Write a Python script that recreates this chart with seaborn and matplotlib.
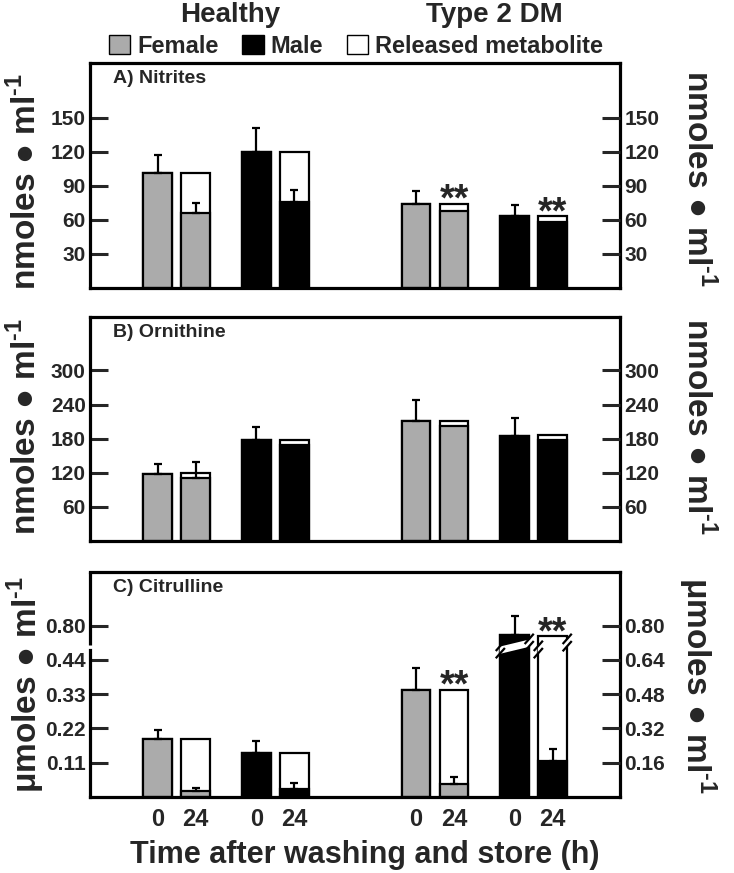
import matplotlib
matplotlib.use('Agg')
import matplotlib.pyplot as plt
from matplotlib.patches import Patch
import seaborn as sns
import pandas as pd
import numpy as np

# bar order: Healthy female, Healthy male, Type 2 DM female, Type 2 DM male
sexes = ['Female', 'Male', 'Female', 'Male']
time_labels = ['0', '24']

# A) Nitrites, nmoles/ml
nit_t0 = [101, 120, 74, 63]
nit_t0_err = [16, 21, 11, 10]
nit_t24_total = [101, 120, 74, 63]
nit_t24_kept = [66, 76, 68, 58]
nit_t24_err = [9, 10, 0, 0]

# B) Ornithine, nmoles/ml
orn_t0 = [118, 178, 211, 184]
orn_t0_err = [17, 22, 37, 33]
orn_t24_total = [119, 178, 211, 186]
orn_t24_kept = [110, 168, 203, 178]
orn_t24_err = [29, 0, 0, 0]

# C) Citrulline, umoles/ml (healthy read on left axis, type 2 DM on right axis)
cit_t0 = [0.186, 0.140, 0.50, 0.755]
cit_t0_err = [0.030, 0.038, 0.10, 0.09]
cit_t24_total = [0.185, 0.140, 0.50, 0.75]
cit_t24_kept = [0.019, 0.027, 0.062, 0.169]
cit_t24_err = [0.011, 0.017, 0.032, 0.054]

cit_left_ticks = ['0.11', '0.22', '0.33', '0.44', '0.80']
cit_right_ticks = ['0.16', '0.32', '0.48', '0.64', '0.80']

GRAY = '#ababab'
LW = 1.6

sns.set_theme(style='white')
plt.rcParams['font.family'] = ['Liberation Sans', 'DejaVu Sans']
plt.rcParams['font.weight'] = 'bold'
plt.rcParams['mathtext.fontset'] = 'custom'
plt.rcParams['mathtext.rm'] = 'Liberation Sans:bold'
plt.rcParams['mathtext.bf'] = 'Liberation Sans:bold'

starts = np.array([0, 2.6, 6.8, 9.4])
pos = np.ravel(np.column_stack([starts, starts + 1]))


def draw_bars(ax, t0, t0_err, total, kept, kept_err, scale=(1, 1, 1, 1)):
    s = np.asarray(scale, dtype=float)[:, None]
    df = pd.DataFrame({
        'pos': pos,
        'back': np.ravel(np.column_stack([t0, total]) * s),
        'front': np.ravel(np.column_stack([t0, kept]) * s),
        'err': np.ravel(np.column_stack([t0_err, kept_err]) * s),
        'sex': np.repeat(sexes, 2),
    })
    # white = released metabolite, drawn to the total height
    sns.barplot(data=df, x='pos', y='back', native_scale=True, orient='x',
                color='white', saturation=1, width=0.76, edgecolor='black',
                linewidth=LW, errorbar=None, ax=ax)
    sns.barplot(data=df, x='pos', y='front', hue='sex', native_scale=True, orient='x',
                palette={'Female': GRAY, 'Male': 'black'}, dodge=False, saturation=1,
                width=0.76, edgecolor='black', linewidth=LW, errorbar=None,
                legend=False, ax=ax)
    m = (df.err > 0).to_numpy()
    ax.errorbar(df.pos[m], df.front[m], yerr=[np.zeros(m.sum()), df.err[m]],
                fmt='none', ecolor='black', elinewidth=LW, capsize=3, capthick=LW, zorder=5)
    return df


def style_axes(ax, ylim, ticks, left_labels, right_labels):
    ax.set_xlim(-1.78, 12.17)
    ax.set_ylim(*ylim)
    ax.set_xlabel('')
    ax.set_ylabel('')
    ax.set_yticks(ticks)
    ax.set_yticklabels(left_labels)
    ax.tick_params(axis='y', direction='in', length=13, width=2.2, labelsize=15, pad=3)
    for sp in ax.spines.values():
        sp.set_visible(True)
        sp.set_color('black')
        sp.set_linewidth(2.3)
    ax2 = ax.twinx()
    ax2.set_ylim(*ylim)
    ax2.set_yticks(ticks)
    ax2.set_yticklabels(right_labels)
    ax2.tick_params(axis='y', direction='in', length=13, width=2.2, labelsize=15, pad=3)
    for sp in ax2.spines.values():
        sp.set_visible(False)
    ax2.grid(False)
    ax.grid(False)
    return ax2


def stars(ax, x, y):
    ax.annotate('**', (x, y), xytext=(0, -5), textcoords='offset points',
                ha='center', va='baseline', fontsize=27, fontweight='bold', zorder=8)


def bar_break(ax, xc, y0=0.670, gap=0.034, rise=0.035, hw=0.38):
    xs = np.array([xc - hw - 0.03, xc + hw + 0.03])
    ys = y0 + np.array([0, rise])
    ax.fill_between(xs, ys, ys + gap, color='white', lw=0, zorder=6)
    for e in (xc - hw, xc + hw):
        yb = y0 + rise * (e - xs[0]) / (xs[1] - xs[0])
        for yy in (yb, yb + gap):
            ax.plot([e - 0.12, e + 0.12], [yy - 0.024, yy + 0.024], color='black',
                    lw=LW, zorder=7, solid_capstyle='butt', clip_on=False)


fig = plt.figure(figsize=(7.34, 8.73), dpi=100)
axA = fig.add_axes([0.1226, 0.6701, 0.7221, 0.2577])
axB = fig.add_axes([0.1226, 0.3803, 0.7221, 0.2566])
axC = fig.add_axes([0.1226, 0.0871, 0.7221, 0.2577])

# A) Nitrites
dfA = draw_bars(axA, nit_t0, nit_t0_err, nit_t24_total, nit_t24_kept, nit_t24_err)
nit_ticks = [30, 60, 90, 120, 150]
style_axes(axA, (0, 198), nit_ticks, nit_ticks, nit_ticks)
for i in (5, 7):
    stars(axA, dfA.pos[i], dfA.back[i])

# B) Ornithine
draw_bars(axB, orn_t0, orn_t0_err, orn_t24_total, orn_t24_kept, orn_t24_err)
orn_ticks = [60, 120, 180, 240, 300]
style_axes(axB, (0, 394), orn_ticks, orn_ticks, orn_ticks)

# C) Citrulline: healthy values rescaled onto the right-hand axis (0.11 -> 0.16)
k = 0.16 / 0.11
dfC = draw_bars(axC, cit_t0, cit_t0_err, cit_t24_total, cit_t24_kept, cit_t24_err,
                scale=(k, k, 1, 1))
cit_pos = [0.16, 0.32, 0.48, 0.64, 0.80]
style_axes(axC, (0, 1.05), cit_pos, cit_left_ticks, cit_right_ticks)
for i in (5, 7):
    stars(axC, dfC.pos[i], dfC.back[i])
for i in (6, 7):
    bar_break(axC, dfC.pos[i])
# broken left spine between 0.44 and 0.80
axC.spines['left'].set_bounds(0, 0.685)
axC.plot([0, 0], [0.708, 1.05], transform=axC.get_yaxis_transform(), color='black',
         lw=2.3, clip_on=False, solid_capstyle='butt')

for ax in (axA, axB):
    ax.set_xticks([])
axC.set_xticks(pos)
axC.set_xticklabels(time_labels * 4)
axC.tick_params(axis='x', length=0, pad=8, labelsize=17)

# panel letters
axA.text(0.043, 0.97, 'A) Nitrites', transform=axA.transAxes, va='top', fontsize=14)
axB.text(0.043, 0.97, 'B) Ornithine', transform=axB.transAxes, va='top', fontsize=14)
axC.text(0.043, 0.97, 'C) Citrulline', transform=axC.transAxes, va='top', fontsize=14)

# y labels on both sides
nm = 'nmoles \u25cf ml$^{\\text{-1}}$'
um = '\u03bcmoles \u25cf ml$^{\\text{-1}}$'
for lab, yc_left, yc_right in [(nm, 182, 178), (nm, 427, 426), (um, 684, 686)]:
    fig.text(0.035, 1 - yc_left / 873, lab, rotation=90, ha='center', va='center', fontsize=24)
    fig.text(0.95, 1 - yc_right / 873, lab, rotation=270, ha='center', va='center', fontsize=24)

fig.text(230 / 734, 1 - 15 / 873, 'Healthy', ha='center', va='center', fontsize=20)
fig.text(494 / 734, 1 - 15 / 873, 'Type 2 DM', ha='center', va='center', fontsize=20)
fig.text(365 / 734, 1 - 855 / 873, 'Time after washing and store (h)',
         ha='center', va='center', fontsize=22)

handles = [Patch(facecolor=GRAY, edgecolor='black', label='Female'),
           Patch(facecolor='black', edgecolor='black', label='Male'),
           Patch(facecolor='white', edgecolor='black', label='Released metabolite')]
fig.legend(handles=handles, loc='center', bbox_to_anchor=(0.485, 0.947), ncol=3,
           frameon=False, handlelength=0.9, handleheight=0.9, handletextpad=0.3,
           columnspacing=1.0, prop={'size': 17, 'weight': 'bold'})

fig.savefig('out.png', dpi=100)
